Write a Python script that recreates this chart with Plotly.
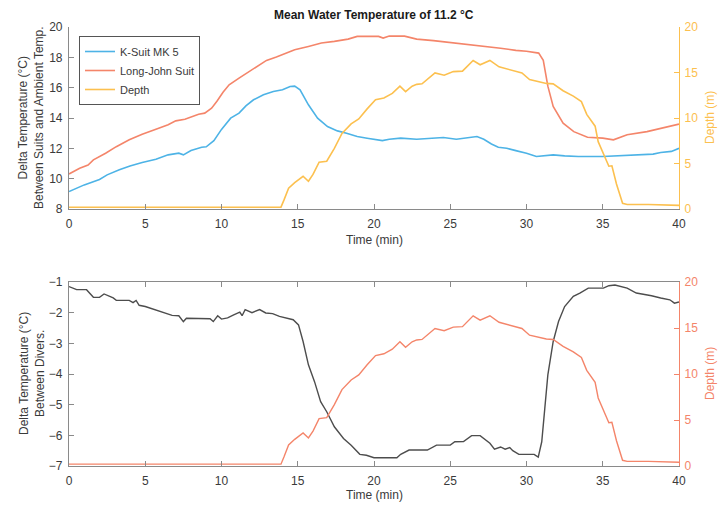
import plotly.graph_objects as go

# ---------------- data ----------------
ksuit_t = [0, 1, 2, 2.5, 3.3, 4, 4.8, 5.7, 6.5, 7.2, 7.5, 8, 8.7, 9, 9.5, 10, 10.6, 11.15, 11.6, 12.1,
           12.75, 13.4, 14, 14.5, 14.8, 15.15, 15.7, 16.3, 16.95, 17.6, 18.2, 18.9, 19.55, 20.1, 20.55,
           21, 21.75, 22.8, 23.9, 24.55, 25.4, 26.1, 26.75, 27.2, 27.7, 28.15, 28.7, 29.3, 30, 30.65,
           31, 31.75, 32.5, 33.4, 35, 35.9, 36.5, 37.7, 38.3, 38.8, 39.5, 40]
ksuit_v = [9.15, 9.59, 9.95, 10.25, 10.58, 10.84, 11.06, 11.28, 11.57, 11.68, 11.57, 11.85, 12.07, 12.1,
           12.5, 13.25, 13.99, 14.32, 14.8, 15.2, 15.53, 15.75, 15.86, 16.08, 16.1, 15.86, 14.87, 13.99,
           13.44, 13.15, 13.0, 12.78, 12.67, 12.56, 12.51, 12.6, 12.67, 12.6, 12.67, 12.71, 12.6, 12.67,
           12.78, 12.6, 12.29, 12.07, 12.0, 11.85, 11.68, 11.46, 11.5, 11.57, 11.5, 11.46, 11.46, 11.5,
           11.55, 11.6, 11.62, 11.72, 11.8, 12.0]

lj_t = [0, 0.7, 1.25, 1.6, 2.4, 3.1, 3.95, 4.8, 5.7, 6.5, 7.0, 7.6, 8.5, 8.9, 9.35, 9.7, 10.1, 10.5, 11.15,
        11.7, 12.3, 12.95, 13.6, 14.2, 14.8, 15.7, 16.55, 17.4, 18.3, 18.9, 19.5, 20.3, 20.6, 21, 22, 22.8,
        23.9, 25, 26.1, 27.2, 28.3, 29.3, 30.0, 30.8, 31.1, 31.4, 31.75, 32.4, 33.1, 34.0, 35.0, 35.7,
        36.6, 37.9, 39.2, 40]
lj_v = [10.31, 10.69, 10.9, 11.24, 11.68, 12.11, 12.56, 12.93, 13.26, 13.55, 13.81, 13.92, 14.25, 14.32,
        14.65, 15.1, 15.7, 16.19, 16.63, 17.0, 17.4, 17.8, 18.02, 18.28, 18.5, 18.72, 18.94, 19.05, 19.2,
        19.38, 19.4, 19.38, 19.27, 19.4, 19.4, 19.2, 19.1, 18.98, 18.85, 18.76, 18.6, 18.46, 18.4, 18.28,
        17.8, 16.1, 14.76, 13.66, 13.1, 12.73, 12.67, 12.56, 12.89, 13.1, 13.44, 13.6]

depth_t = [0, 13.9, 14.1, 14.4, 14.8, 15.35, 15.7, 16.0, 16.4, 16.9, 17.4, 17.9, 18.5, 19.0, 19.55, 20.1,
           20.65, 21.2, 21.7, 22.07, 22.5, 22.8, 23.15, 23.6, 24.0, 24.6, 25.2, 25.8, 26.1, 26.5, 26.96,
           27.6, 28.2, 28.7, 29.2, 29.7, 30.2, 30.85, 31.3, 31.75, 32.4, 33.07, 33.4, 33.6, 33.95, 34.5,
           34.7, 35.04, 35.4, 35.6, 35.9, 36.3, 36.6, 38, 40]
depth_v = [0.2, 0.2, 1.0, 2.28, 2.9, 3.6, 3.05, 3.8, 5.15, 5.25, 6.67, 8.3, 9.35, 9.9, 11.0, 12.0, 12.2,
           12.7, 13.5, 12.9, 13.5, 13.7, 13.76, 14.4, 14.95, 14.7, 15.1, 15.15, 15.66, 16.32, 15.85, 16.33,
           15.62, 15.37, 15.12, 14.95, 14.22, 14.0, 13.8, 13.75, 13.0, 12.4, 12.0, 11.8, 10.4, 9.1, 7.4,
           6.0, 4.7, 4.75, 2.75, 0.62, 0.5, 0.5, 0.4]

divers_t = [0, 0.5, 1.15, 1.6, 2.0, 2.3, 2.9, 3.1, 3.95, 4.2, 4.4, 4.6, 5.0, 5.5, 5.9, 6.3, 6.76, 7.2, 7.5,
            7.7, 8.5, 9.25, 9.46, 9.75, 10.0, 10.4, 10.8, 11.2, 11.35, 11.55, 12.0, 12.5, 12.9, 13.35,
            13.8, 14.4, 14.7, 15.05, 15.35, 15.7, 16.1, 16.5, 16.9, 17.4, 18.0, 18.5, 19.07, 19.5, 20.0,
            21.5, 21.75, 22.3, 23.5, 24.1, 25.0, 25.3, 25.87, 26.4, 26.96, 27.6, 27.9, 28.3, 28.6, 28.9,
            29.1, 29.5, 30.5, 30.77, 31.0, 31.2, 31.4, 31.75, 32.1, 32.5, 33.07, 33.5, 34.05, 35.04, 35.4,
            35.8, 36.2, 36.6, 37.2, 37.7, 38.2, 38.8, 39.4, 39.7, 40]
divers_v = [-1.15, -1.25, -1.25, -1.5, -1.5, -1.39, -1.52, -1.6, -1.6, -1.67, -1.6, -1.76, -1.8, -1.88,
            -1.96, -2.01, -2.09, -2.1, -2.29, -2.18, -2.2, -2.2, -2.29, -2.1, -2.21, -2.17, -2.07, -1.98,
            -2.1, -1.9, -2.0, -1.9, -2.01, -2.03, -2.12, -2.18, -2.23, -2.4, -2.94, -3.7, -4.25, -4.9,
            -5.23, -5.72, -6.1, -6.32, -6.62, -6.65, -6.73, -6.73, -6.62, -6.48, -6.48, -6.32, -6.32,
            -6.21, -6.2, -6.01, -6.01, -6.26, -6.45, -6.38, -6.45, -6.4, -6.5, -6.62, -6.62, -6.71, -6.21,
            -5.12, -4.03, -2.94, -2.29, -1.8, -1.47, -1.36, -1.2, -1.2, -1.12, -1.1, -1.14, -1.2, -1.36,
            -1.4, -1.45, -1.52, -1.58, -1.69, -1.65]

x_ticks = [0, 5, 10, 15, 20, 25, 30, 35, 40]
top_left_ticks = [8, 10, 12, 14, 16, 18, 20]
bottom_left_ticks = [-7, -6, -5, -4, -3, -2, -1]
depth_ticks = [0, 5, 10, 15, 20]

# ---------------- style ----------------
BLUE = "#4db3e6"
ORANGE = "#f4856a"
YELLOW = "#fcc04f"
GRAY_LINE = "#4d4d4d"
AXIS = "#8a8a8a"
TXT = "#3a3a3a"
FONT = "Liberation Sans, Arial, sans-serif"

OFF = 8  # default page body margin
W, H = 726 - OFF, 506 - OFF
PL, PR, PT, PB = 69, 679, 27, 466          # plot box in page pixels
ML, MT = PL - OFF, PT - OFF
MR, MB = W - (PR - OFF), H - (PB - OFF)
PW, PH = W - ML - MR, H - MT - MB
top_dom = [(PB - 209) / PH, 1.0]
bot_dom = [0.0, (PB - 282) / PH]

fig = go.Figure()
fig.add_trace(go.Scatter(x=ksuit_t, y=ksuit_v, name="K-Suit MK 5", mode="lines",
                         line=dict(color=BLUE, width=1.6), xaxis="x", yaxis="y"))
fig.add_trace(go.Scatter(x=lj_t, y=lj_v, name="Long-John Suit", mode="lines",
                         line=dict(color=ORANGE, width=1.6), xaxis="x", yaxis="y"))
fig.add_trace(go.Scatter(x=depth_t, y=depth_v, name="Depth", mode="lines",
                         line=dict(color=YELLOW, width=1.6), xaxis="x", yaxis="y2"))
fig.add_trace(go.Scatter(x=divers_t, y=divers_v, name="Divers", mode="lines", showlegend=False,
                         line=dict(color=GRAY_LINE, width=1.4), xaxis="x2", yaxis="y3"))
fig.add_trace(go.Scatter(x=depth_t, y=depth_v, name="Depth", mode="lines", showlegend=False,
                         line=dict(color=ORANGE, width=1.4), xaxis="x2", yaxis="y4"))

tickfont = dict(family=FONT, size=12, color=TXT)
xcommon = dict(range=[0, 40], tickvals=x_ticks, ticks="inside", ticklen=5, tickcolor=AXIS,
               showline=True, linecolor=AXIS, linewidth=1.2, showgrid=False, zeroline=False,
               tickfont=tickfont, ticklabelstandoff=3, fixedrange=True)


def px_x(p):
    return (p - PL) / PW


def px_y(p):
    return (PB - p) / PH


fig.update_layout(
    width=W, height=H,
    margin=dict(l=ML, r=MR, t=MT, b=MB),
    paper_bgcolor="white", plot_bgcolor="white",
    font=dict(family=FONT, size=12, color=TXT),
    showlegend=True,
    legend=dict(x=px_x(79), y=px_y(36), xanchor="left", yanchor="top",
                bgcolor="white", bordercolor="#555555", borderwidth=1,
                font=dict(family=FONT, size=11, color=TXT), tracegroupgap=0, itemwidth=30),
    xaxis=dict(domain=[0, 1], anchor="y", **xcommon),
    yaxis=dict(domain=top_dom, anchor="x", range=[8, 20], tickvals=top_left_ticks, ticks="inside",
               ticklen=5, tickcolor=AXIS, showline=True, linecolor=AXIS, linewidth=1.2,
               showgrid=False, zeroline=False, tickfont=tickfont, ticklabelstandoff=3),
    yaxis2=dict(domain=top_dom, anchor="x", overlaying="y", side="right", range=[0, 20],
                tickvals=depth_ticks, ticks="inside", ticklen=5, tickcolor=YELLOW, showline=True,
                linecolor=YELLOW, linewidth=1.2, showgrid=False, zeroline=False,
                tickfont=dict(family=FONT, size=12, color=YELLOW), ticklabelstandoff=2),
    xaxis2=dict(domain=[0, 1], anchor="y3", mirror="ticks", **xcommon),
    yaxis3=dict(domain=bot_dom, anchor="x2", range=[-7, -1], tickvals=bottom_left_ticks,
                ticks="inside", ticklen=5, tickcolor=AXIS, showline=True, linecolor=AXIS,
                linewidth=1.2, showgrid=False, zeroline=False, tickfont=tickfont, ticklabelstandoff=3),
    yaxis4=dict(domain=bot_dom, anchor="x2", overlaying="y3", side="right", range=[0, 20],
                tickvals=depth_ticks, ticks="inside", ticklen=5, tickcolor=ORANGE, showline=True,
                linecolor=ORANGE, linewidth=1.2, showgrid=False, zeroline=False,
                tickfont=dict(family=FONT, size=12, color=ORANGE), ticklabelstandoff=2),
)

ann = [
    dict(text="<b>Mean Water Temperature of 11.2 °C</b>", x=px_x(374), y=px_y(15),
         font=dict(size=12, color="#1a1a1a")),
    dict(text="Time (min)", x=px_x(374), y=px_y(240), font=dict(size=12, color=TXT)),
    dict(text="Time (min)", x=px_x(374), y=px_y(495), font=dict(size=12, color=TXT)),
    dict(text="Delta Temperature (°C)<br>Between Suits and Ambient Temp.", x=px_x(31), y=px_y(118),
         textangle=-90, font=dict(size=12, color=TXT)),
    dict(text="Delta Temperature (°C)<br>Between Divers.", x=px_x(32), y=px_y(374),
         textangle=-90, font=dict(size=12, color=TXT)),
    dict(text="Depth (m)", x=px_x(710), y=px_y(118), textangle=-90, font=dict(size=12, color=YELLOW)),
    dict(text="Depth (m)", x=px_x(710), y=px_y(374), textangle=-90, font=dict(size=12, color=ORANGE)),
]
for a in ann:
    fig.add_annotation(xref="paper", yref="paper", showarrow=False, xanchor="center",
                       yanchor="middle", **a)

fig.write_html("out.html")
